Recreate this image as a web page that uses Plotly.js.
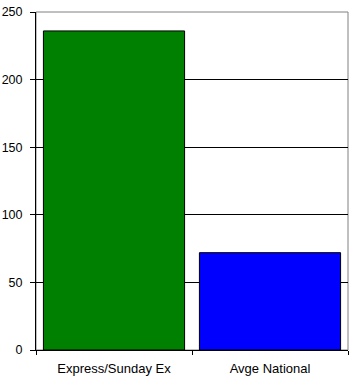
<!DOCTYPE html>
<html>
<head>
<meta charset="utf-8">
<script src="https://cdn.plot.ly/plotly-3.0.1.min.js"></script>
<style>
  html, body { margin: 0; padding: 0; background: #ffffff; }
  #chart { width: 354px; height: 379px; }
</style>
</head>
<body>
<div id="chart"></div>
<script>
// Circulation comparison: one paper against the national average
const categories = ["Express/Sunday Ex", "Avge National"];
const values = [236, 72];
const barColors = ["#008000", "#0000ff"];
const yTicks = [0, 50, 100, 150, 200, 250];

const trace = {
  type: "bar",
  x: categories,
  y: values,
  width: 0.905,
  marker: { color: barColors, line: { color: "#000000", width: 1 } },
  hoverinfo: "x+y"
};

const layout = {
  width: 354,
  height: 379,
  margin: { l: 36, r: 6, t: 12, b: 29, pad: 0 },
  paper_bgcolor: "#ffffff",
  plot_bgcolor: "#ffffff",
  showlegend: false,
  bargap: 0,
  font: { family: "Liberation Sans, Arial, sans-serif", size: 12, color: "#000000" },
  xaxis: {
    type: "category",
    showline: true,
    linecolor: "#000000",
    linewidth: 1,
    ticks: "outside",
    tickson: "boundaries",
    ticklen: 4,
    tickcolor: "#000000",
    showgrid: false,
    zeroline: false,
    tickfont: { size: 13 },
    ticklabelstandoff: 6
  },
  yaxis: {
    range: [0, 250],
    tickvals: yTicks,
    ticktext: yTicks.map(String),
    showline: true,
    linecolor: "#000000",
    linewidth: 1,
    ticks: "outside",
    ticklen: 5,
    tickcolor: "#000000",
    showgrid: true,
    gridcolor: "#000000",
    gridwidth: 1,
    zeroline: false,
    tickfont: { size: 12.5 },
    ticklabelstandoff: 5
  },
  shapes: [
    {
      type: "rect", xref: "paper", yref: "paper",
      x0: 0, x1: 1, y0: 0, y1: 1,
      line: { color: "#808080", width: 1 },
      layer: "below"
    }
  ]
};

Plotly.newPlot("chart", [trace], layout, { displayModeBar: false, staticPlot: true });
</script>
</body>
</html>
